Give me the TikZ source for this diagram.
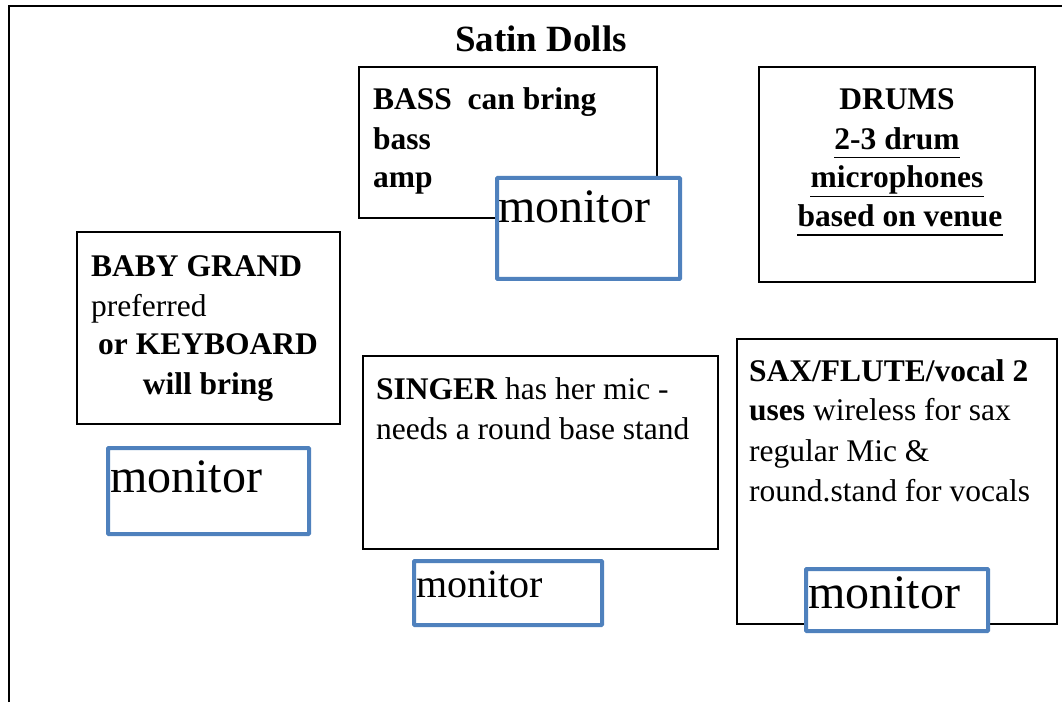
\documentclass[tikz,border=0pt]{standalone}
\usepackage{fontspec}
\setmainfont{Liberation Serif}
\definecolor{monblue}{RGB}{79,129,189}
\tikzset{
  blackbox/.style={draw=black, line width=1.5pt, fill=white, inner sep=0pt, rectangle},
  monbox/.style={draw=monblue, line width=4pt, fill=white, inner sep=0pt, rectangle, rounded corners=0.8pt},
  body/.style={inner sep=0pt, font=\fontsize{31.5}{37}\selectfont},
  bodyb/.style={inner sep=0pt, font=\fontsize{31.5}{37}\selectfont\bfseries},
  montext/.style={inner sep=0pt, font=\fontsize{48}{56}\selectfont, anchor=base west},
  ul/.style={line width=1.6pt}
}
\begin{document}
\begin{tikzpicture}[x=1pt,y=1pt]
\useasboundingbox (0,0) rectangle (1062,702);
% outer frame (left and top edges)
\coordinate (fbl) at (9,0);
\coordinate (ftl) at (9,696);
\coordinate (ftr) at (1062,696);
\draw[line width=1.6pt] (fbl) -- (ftl) -- (ftr);

% title
\node[inner sep=0pt, anchor=base, font=\fontsize{37}{44}\selectfont\bfseries] (title) at (541,650) {Satin Dolls};

% bass
\node[blackbox, minimum width=298pt, minimum height=151pt] (bass) at (508,559.5) {};
\node[bodyb, anchor=base west] (bass1) at (373,592) {BASS\ \ can bring};
\node[bodyb, anchor=base west] (bass2) at (373,552) {bass};
\node[bodyb, anchor=base west] (bass3) at (373,514) {amp};
\node[monbox, minimum width=183pt, minimum height=101pt] (bassmon) at (588.5,473.5) {};
\node[montext] (bassmont) at (498,479) {monitor};

% drums
\node[blackbox, minimum width=276pt, minimum height=215pt] (drums) at (897,527.5) {};
\node[bodyb, anchor=base] (dr1) at (897,592) {DRUMS};
\node[bodyb, anchor=base] (dr2) at (897,552) {2-3 drum};
\node[bodyb, anchor=base] (dr3) at (897,514) {microphones};
\node[bodyb, anchor=base] (dr4) at (900,475) {based on venue};
\draw[ul] ([yshift=-7.5pt]dr2.base west) -- ([yshift=-7.5pt]dr2.base east);
\draw[ul] ([yshift=-8.5pt]dr3.base west) -- ([yshift=-8.5pt]dr3.base east);
\draw[ul] ([yshift=-8pt]dr4.base west) -- ([yshift=-8pt]dr4.base east);

% baby grand
\node[blackbox, minimum width=263pt, minimum height=192pt] (piano) at (208.5,374) {};
\node[bodyb, anchor=base west] (pi1) at (91,425) {BABY GRAND};
\node[body, anchor=base west] (pi2) at (91,385) {preferred};
\node[bodyb, anchor=base] (pi3) at (208,347) {or KEYBOARD};
\node[bodyb, anchor=base] (pi4) at (208,307) {will bring};
\node[monbox, minimum width=201pt, minimum height=86pt] (pianomon) at (208.5,211) {};
\node[montext] (pianomont) at (110,210) {monitor};

% singer
\node[blackbox, minimum width=355pt, minimum height=193pt] (singer) at (540.5,249.5) {};
\node[body, anchor=base west] (si1) at (376,302) {\textbf{SINGER} has her mic -};
\node[body, anchor=base west] (si2) at (376,262) {needs a round base stand};
\node[monbox, minimum width=188pt, minimum height=64pt] (singermon) at (508,109) {};
\node[inner sep=0pt, anchor=base west, font=\fontsize{40}{46}\selectfont] (singermont) at (416,105) {monitor};

% sax
\node[blackbox, minimum width=320pt, minimum height=285pt] (sax) at (897,220.5) {};
\node[bodyb, anchor=base west] (sa1) at (749,320) {SAX/FLUTE/vocal 2};
\node[body, anchor=base west] (sa2) at (749,281) {\textbf{uses} wireless for sax};
\node[body, anchor=base west] (sa3) at (749,241) {regular Mic \&};
\node[body, anchor=base west] (sa4) at (749,201) {round.stand for vocals};
\node[monbox, minimum width=182pt, minimum height=62pt] (saxmon) at (897,102) {};
\node[montext] (saxmont) at (808,94) {monitor};
\end{tikzpicture}
\end{document}
